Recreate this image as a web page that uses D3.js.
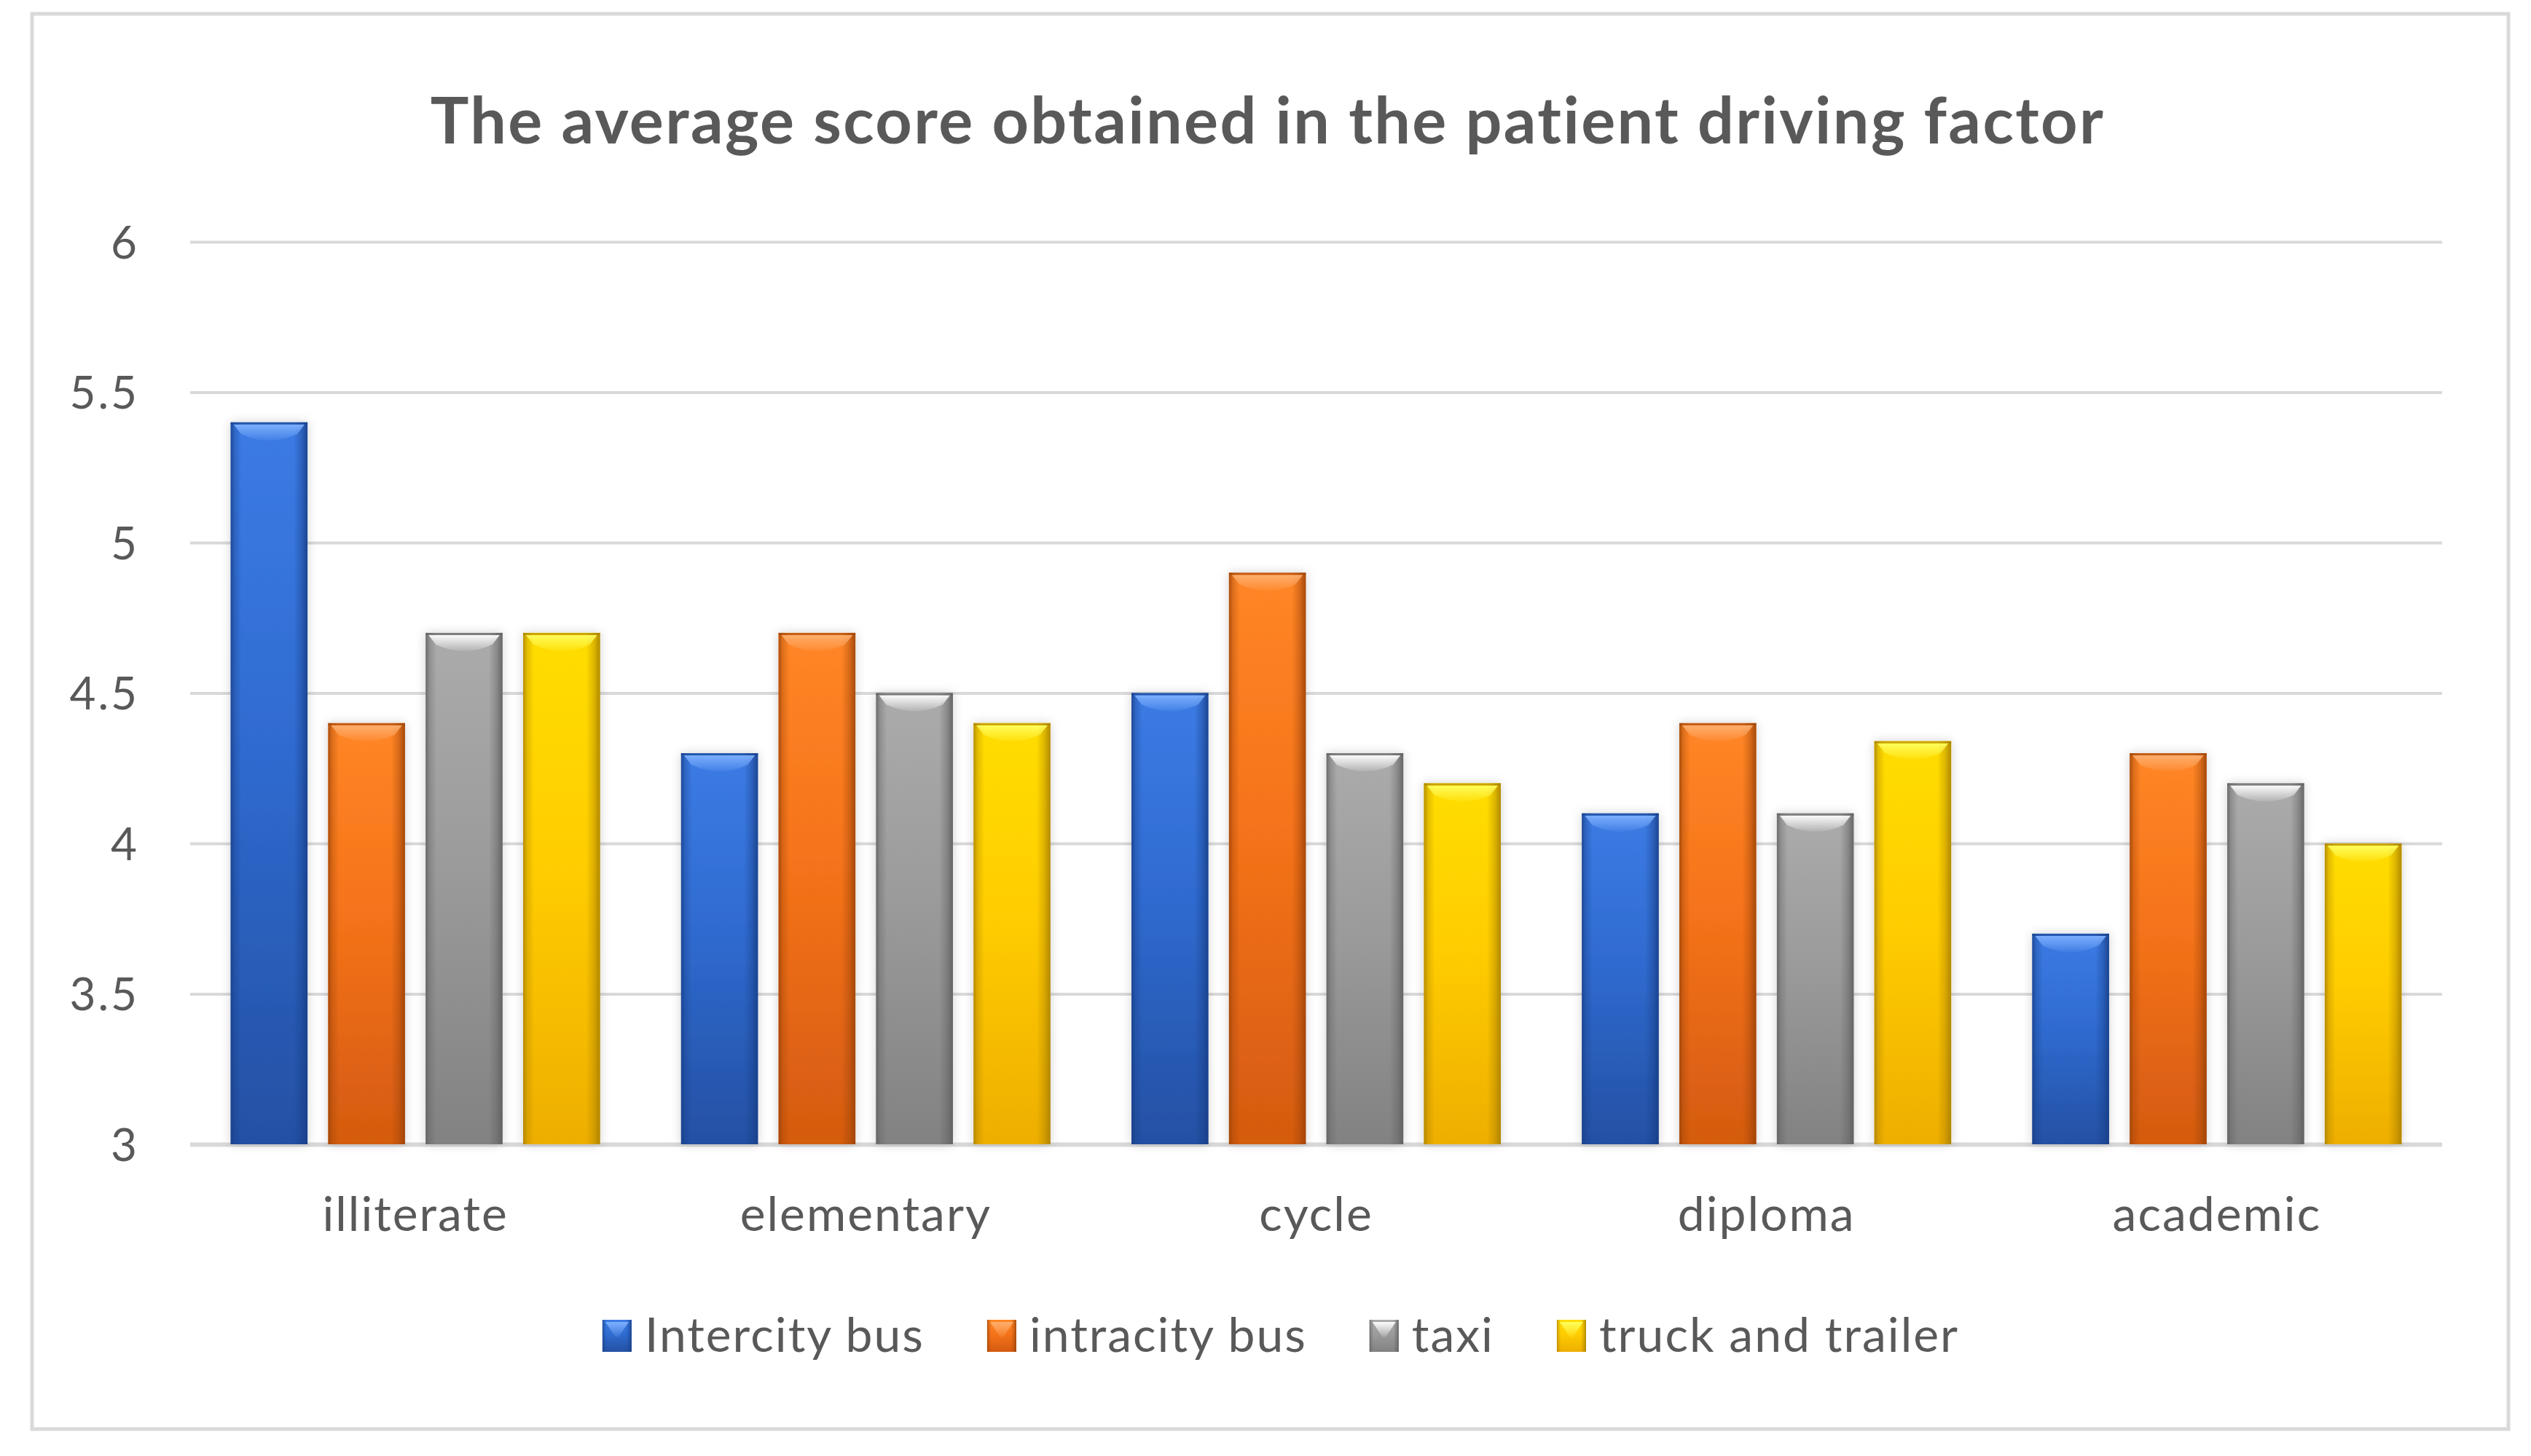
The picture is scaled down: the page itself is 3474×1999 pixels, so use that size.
<!DOCTYPE html>
<html>
<head>
<meta charset="utf-8">
<script src="https://cdn.jsdelivr.net/npm/d3@7"></script>
<style>
    body { margin: 0; background: #fff; }
    text { font-family: Lato, "Open Sans", sans-serif; fill: #595959; }
</style>
</head>
<body>
<script>
(function(){

    //chart data
    var categories = ["illiterate", "elementary", "cycle", "diploma", "academic"];
    var seriesNames = ["Intercity bus", "intracity bus", "taxi", "truck and trailer"];
    var intercityBus = [5.4, 4.3, 4.5, 4.1, 3.7];
    var intracityBus = [4.4, 4.7, 4.9, 4.4, 4.3];
    var taxi = [4.7, 4.5, 4.3, 4.1, 4.2];
    var truckTrailer = [4.7, 4.4, 4.2, 4.34, 4.0];
    var yTicks = [3, 3.5, 4, 4.5, 5, 5.5, 6];
    var title = "The average score obtained in the patient driving factor";

    var seriesValues = [intercityBus, intracityBus, taxi, truckTrailer];

    //bar shading per series: top, middle, bottom, edge, highlight
    var shades = [
        {top: "#3c7be4", mid: "#2f6bd0", bot: "#2450a3", edge: "#183f88", hi: "#7fb2ff"},
        {top: "#ff8626", mid: "#f5731a", bot: "#d45b10", edge: "#9c4308", hi: "#ffb070"},
        {top: "#ababab", mid: "#9b9b9b", bot: "#828282", edge: "#5f5f5f", hi: "#ffffff"},
        {top: "#ffdd00", mid: "#ffcd00", bot: "#eeae00", edge: "#a98000", hi: "#ffff60"}
    ];

    //frame dimensions
    var width = 3474,
        height = 1999,
        plotLeft = 261,
        plotRight = 3352,
        plotTop = 332,
        plotBottom = 1571;

    var svg = d3.select("body")
        .append("svg")
        .attr("width", width)
        .attr("height", height);

    var defs = svg.append("defs");

    //soft shadow under bars
    var shadow = defs.append("filter")
        .attr("id", "barShadow")
        .attr("x", "-30%").attr("y", "-10%")
        .attr("width", "160%").attr("height", "120%");
    shadow.append("feDropShadow")
        .attr("dx", 0).attr("dy", 0)
        .attr("stdDeviation", 7)
        .attr("flood-color", "#000")
        .attr("flood-opacity", 0.18);

    //gradients for each series
    shades.forEach(function(s, i){
        var v = defs.append("linearGradient")
            .attr("id", "vert" + i)
            .attr("x1", 0).attr("y1", 0).attr("x2", 0).attr("y2", 1);
        v.append("stop").attr("offset", "0%").attr("stop-color", s.top);
        v.append("stop").attr("offset", "45%").attr("stop-color", s.mid);
        v.append("stop").attr("offset", "100%").attr("stop-color", s.bot);

        var h = defs.append("linearGradient")
            .attr("id", "edge" + i)
            .attr("x1", 0).attr("y1", 0).attr("x2", 1).attr("y2", 0);
        h.append("stop").attr("offset", "0%").attr("stop-color", s.edge).attr("stop-opacity", 0.85);
        h.append("stop").attr("offset", "5%").attr("stop-color", s.edge).attr("stop-opacity", 0.35);
        h.append("stop").attr("offset", "14%").attr("stop-color", s.edge).attr("stop-opacity", 0);
        h.append("stop").attr("offset", "82%").attr("stop-color", s.edge).attr("stop-opacity", 0);
        h.append("stop").attr("offset", "92%").attr("stop-color", s.edge).attr("stop-opacity", 0.4);
        h.append("stop").attr("offset", "100%").attr("stop-color", s.edge).attr("stop-opacity", 0.9);

        var t = defs.append("linearGradient")
            .attr("id", "hi" + i)
            .attr("x1", 0).attr("y1", 0).attr("x2", 0).attr("y2", 1);
        t.append("stop").attr("offset", "0%").attr("stop-color", s.hi).attr("stop-opacity", 0.95);
        t.append("stop").attr("offset", "100%").attr("stop-color", s.hi).attr("stop-opacity", 0.1);
    });

    //outer chart border
    svg.append("rect")
        .attr("x", 44)
        .attr("y", 19)
        .attr("width", 3399)
        .attr("height", 1943)
        .attr("fill", "#fff")
        .attr("stroke", "#d9d9d9")
        .attr("stroke-width", 5);

    //title
    svg.append("text")
        .attr("x", 1740)
        .attr("y", 197)
        .attr("text-anchor", "middle")
        .style("font-size", "88px")
        .style("font-weight", "bold")
        .style("letter-spacing", "2.4px")
        .text(title);

    //scales
    var x0 = d3.scaleBand()
        .domain(categories)
        .range([plotLeft, plotRight])
        .paddingInner(0.18)
        .paddingOuter(0.09);

    var x1 = d3.scaleBand()
        .domain(d3.range(seriesNames.length))
        .range([0, x0.bandwidth()])
        .paddingInner(0.212);

    var y = d3.scaleLinear()
        .domain([3, 6])
        .range([plotBottom, plotTop]);

    //gridlines
    var yAxis = d3.axisLeft(y)
        .tickValues(yTicks)
        .tickSize(-(plotRight - plotLeft))
        .tickPadding(70)
        .tickFormat(d3.format("~g"));

    var axis = svg.append("g")
        .attr("class", "axis")
        .attr("transform", "translate(" + plotLeft + ",0)")
        .call(yAxis);
    axis.select(".domain").remove();
    axis.selectAll("line")
        .attr("stroke", "#d9d9d9")
        .attr("stroke-width", function(d){ return d === 3 ? 6 : 4; });
    axis.selectAll("text")
        .attr("fill", "#595959")
        .style("font-size", "62px")
        .style("letter-spacing", "3px")
        .attr("dy", "0.36em");

    //bars
    var groups = svg.selectAll(".group")
        .data(categories)
        .enter()
        .append("g")
        .attr("class", "group")
        .attr("transform", function(d){ return "translate(" + x0(d) + ",0)"; });

    var bars = groups.selectAll(".bar")
        .data(function(d, ci){
            return seriesValues.map(function(vals, si){
                return {series: si, value: vals[ci]};
            });
        })
        .enter()
        .append("g")
        .attr("class", "bar");

    bars.append("rect")
        .attr("x", function(d){ return x1(d.series); })
        .attr("y", function(d){ return y(d.value); })
        .attr("width", x1.bandwidth())
        .attr("height", function(d){ return y(3) - y(d.value); })
        .attr("fill", function(d){ return "url(#vert" + d.series + ")"; })
        .attr("filter", "url(#barShadow)");

    bars.append("rect")
        .attr("x", function(d){ return x1(d.series); })
        .attr("y", function(d){ return y(d.value); })
        .attr("width", x1.bandwidth())
        .attr("height", function(d){ return y(3) - y(d.value); })
        .attr("fill", function(d){ return "url(#edge" + d.series + ")"; });

    //bevelled highlight at top of each bar
    bars.append("path")
        .attr("d", function(d){
            var bx = x1(d.series), by = y(d.value), bw = x1.bandwidth();
            var p = d3.path();
            p.moveTo(bx + 4, by + 3);
            p.lineTo(bx + bw - 4, by + 3);
            p.lineTo(bx + bw - 14, by + 16);
            p.quadraticCurveTo(bx + bw / 2, by + 34, bx + 14, by + 16);
            p.closePath();
            return p.toString();
        })
        .attr("fill", function(d){ return "url(#hi" + d.series + ")"; });

    //top edge line
    bars.append("rect")
        .attr("x", function(d){ return x1(d.series); })
        .attr("y", function(d){ return y(d.value); })
        .attr("width", x1.bandwidth())
        .attr("height", 3)
        .attr("fill", function(d){ return shades[d.series].edge; })
        .attr("opacity", 0.6);

    //category labels
    svg.selectAll(".catLabel")
        .data(categories)
        .enter()
        .append("text")
        .attr("class", "catLabel")
        .attr("x", function(d){ return x0(d) + x0.bandwidth() / 2; })
        .attr("y", 1690)
        .attr("text-anchor", "middle")
        .style("font-size", "66px")
        .style("letter-spacing", "2px")
        .text(function(d){ return d; });

    //legend
    var legend = svg.append("g").attr("class", "legend");
    var items = legend.selectAll(".item")
        .data(seriesNames)
        .enter()
        .append("g")
        .attr("class", "item");

    items.append("rect")
        .attr("x", 0)
        .attr("y", -44)
        .attr("width", 40)
        .attr("height", 44)
        .attr("fill", function(d, i){ return "url(#vert" + i + ")"; });
    items.append("rect")
        .attr("x", 0)
        .attr("y", -44)
        .attr("width", 40)
        .attr("height", 44)
        .attr("fill", function(d, i){ return "url(#edge" + i + ")"; });
    items.append("path")
        .attr("d", "M4,-41L36,-41L22,-20L18,-20Z")
        .attr("fill", function(d, i){ return "url(#hi" + i + ")"; });

    items.append("text")
        .attr("x", 58)
        .attr("y", 0)
        .style("font-size", "66px")
        .style("letter-spacing", "2px")
        .text(function(d){ return d; });

    //lay out legend items in one centred row
    var offsets = [], total = 0, itemGap = 86;
    items.each(function(){
        var w = 58 + d3.select(this).select("text").node().getComputedTextLength();
        offsets.push(total);
        total += w + itemGap;
    });
    total -= itemGap;
    var legendStart = 1758 - total / 2;
    items.attr("transform", function(d, i){
        return "translate(" + (legendStart + offsets[i]) + ",1856)";
    });

})();
</script>
</body>
</html>
